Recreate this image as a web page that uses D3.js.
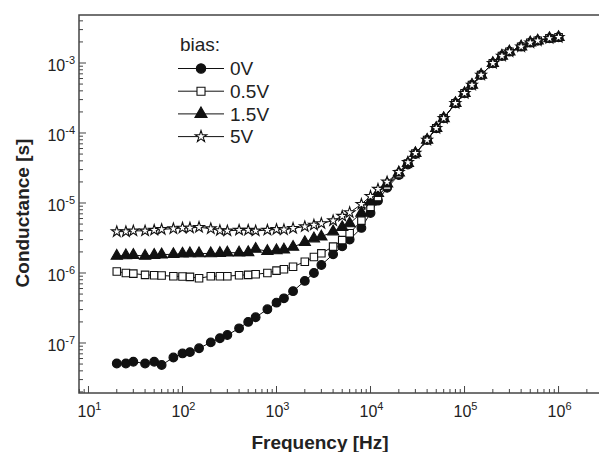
<!DOCTYPE html>
<html>
<head>
<meta charset="utf-8">
<title>conductance vs frequency</title>
<script src="https://d3js.org/d3.v7.min.js"></script>
<style>
  body { margin: 0; background: #fff; }
  text { font-family: "Liberation Sans", Arial, sans-serif; fill: #222; }
</style>
</head>
<body>
<div id="chart"></div>
<script>
// measured frequencies [Hz]
var freq = [20, 25, 30, 40, 50, 60, 80,
    100, 120, 150, 200, 250, 300, 400, 500, 600, 800,
    1e3, 1.2e3, 1.5e3, 2e3, 2.5e3, 3e3, 4e3, 5e3, 6e3, 8e3,
    1e4, 1.2e4, 1.5e4, 2e4, 2.5e4, 3e4, 4e4, 5e4, 6e4, 8e4,
    1e5, 1.2e5, 1.5e5, 2e5, 2.5e5, 3e5, 4e5, 5e5, 6e5, 8e5, 1e6];

// above 40 kHz all bias curves lie on top of each other
var gHigh = [7.94e-5, 1.17e-4, 1.62e-4, 2.66e-4,
    3.69e-4, 4.85e-4, 6.74e-4, 9.9e-4, 1.26e-3, 1.45e-3, 1.71e-3, 1.95e-3, 2.08e-3, 2.25e-3, 2.33e-3];

var g0V = [5.1e-8, 5.1e-8, 5.4e-8, 5.1e-8, 5.4e-8, 4.85e-8, 6.2e-8,
    7.1e-8, 7.4e-8, 8.4e-8, 1.02e-7, 1.17e-7, 1.3e-7, 1.62e-7, 2.0e-7, 2.33e-7, 3.03e-7,
    3.77e-7, 4.35e-7, 5.5e-7, 7.7e-7, 1.0e-6, 1.3e-6, 1.85e-6, 2.4e-6, 3.0e-6, 4.4e-6,
    7.2e-6, 1.08e-5, 1.65e-5, 2.5e-5, 3.55e-5, 5.0e-5].concat(gHigh);

var g05V = [1.05e-6, 1.0e-6, 9.8e-7, 9.4e-7, 9.3e-7, 9.2e-7, 9.0e-7,
    8.9e-7, 8.8e-7, 8.4e-7, 9.0e-7, 9.0e-7, 9.0e-7, 9.3e-7, 9.4e-7, 9.6e-7, 1.0e-6,
    1.08e-6, 1.13e-6, 1.23e-6, 1.45e-6, 1.69e-6, 1.91e-6, 2.38e-6, 2.95e-6, 3.7e-6, 5.6e-6,
    8.8e-6, 1.22e-5, 1.78e-5, 2.6e-5, 3.65e-5, 5.1e-5].concat(gHigh);

var g15V = [1.75e-6, 1.78e-6, 1.8e-6, 1.75e-6, 1.8e-6, 1.83e-6, 1.85e-6,
    1.88e-6, 1.9e-6, 1.9e-6, 1.9e-6, 1.92e-6, 1.95e-6, 1.95e-6, 1.97e-6, 2.2e-6, 2.05e-6,
    2.1e-6, 2.15e-6, 2.35e-6, 2.75e-6, 3.1e-6, 3.3e-6, 3.9e-6, 4.5e-6, 5.1e-6, 7.2e-6,
    1.04e-5, 1.38e-5, 1.88e-5, 2.7e-5, 3.7e-5, 5.13e-5].concat(gHigh);

var g5V = [3.9e-6, 3.9e-6, 4.0e-6, 4.0e-6, 4.1e-6, 4.2e-6, 4.3e-6,
    4.4e-6, 4.4e-6, 4.5e-6, 4.3e-6, 4.05e-6, 4.0e-6, 4.1e-6, 4.1e-6, 4.0e-6, 4.1e-6,
    4.2e-6, 4.15e-6, 4.35e-6, 4.6e-6, 4.85e-6, 5.1e-6, 5.6e-6, 6.5e-6, 7.3e-6, 9.6e-6,
    1.25e-5, 1.58e-5, 2.0e-5, 2.75e-5, 3.8e-5, 5.15e-5].concat(gHigh);

var biasLabels = ["0V", "0.5V", "1.5V", "5V"];
var seriesValues = [g0V, g05V, g15V, g5V];
var xTickExp = [1, 2, 3, 4, 5, 6];
var yTickExp = [-3, -4, -5, -6, -7];

var width = 599, height = 452;
var pLeft = 79, pTop = 15, pBottom = 393, pRight = 603;

var svg = d3.select("#chart").append("svg")
    .attr("width", width)
    .attr("height", height);

var x = d3.scaleLog().domain([7.93, 2.97e6]).range([pLeft, pRight]);
var y = d3.scaleLog().domain([1.93e-8, 4.85e-3]).range([pBottom, pTop]);

// frame (right side runs off the picture)
svg.append("rect")
    .attr("x", pLeft).attr("y", pTop)
    .attr("width", 540).attr("height", pBottom - pTop)
    .attr("fill", "none")
    .attr("stroke", "#444")
    .attr("stroke-width", 1.5);

function isDecade(v) {
    var l = Math.log10(v);
    return Math.abs(l - Math.round(l)) < 1e-6;
}

// inward ticks
svg.selectAll("line.xtick")
    .data(x.ticks())
    .enter().append("line")
    .attr("x1", d => x(d)).attr("x2", d => x(d))
    .attr("y1", pBottom).attr("y2", d => pBottom - (isDecade(d) ? 7 : 4))
    .attr("stroke", "#444").attr("stroke-width", 1);

svg.selectAll("line.ytick")
    .data(y.ticks())
    .enter().append("line")
    .attr("y1", d => y(d)).attr("y2", d => y(d))
    .attr("x1", pLeft).attr("x2", d => pLeft + (isDecade(d) ? 7 : 4))
    .attr("stroke", "#444").attr("stroke-width", 1);

// tick labels, 10 with superscript
var xl = svg.selectAll("text.xlab")
    .data(xTickExp)
    .enter().append("text")
    .attr("x", d => x(Math.pow(10, d)) + 1)
    .attr("y", 417)
    .attr("text-anchor", "middle")
    .attr("font-size", "16px")
    .text("10");
xl.append("tspan")
    .attr("font-size", "11px")
    .attr("dy", -7)
    .text(d => d);

var yl = svg.selectAll("text.ylab")
    .data(yTickExp)
    .enter().append("text")
    .attr("x", 75)
    .attr("y", d => y(Math.pow(10, d)) + 8)
    .attr("text-anchor", "end")
    .attr("font-size", "16px")
    .text("10");
yl.append("tspan")
    .attr("font-size", "11px")
    .attr("dy", -7)
    .text(d => d);

// axis titles
svg.append("text")
    .attr("x", 320).attr("y", 449)
    .attr("text-anchor", "middle")
    .attr("font-size", "19px")
    .attr("font-weight", "bold")
    .text("Frequency [Hz]");

svg.append("text")
    .attr("transform", "translate(29,213) rotate(-90)")
    .attr("text-anchor", "middle")
    .attr("font-size", "19px")
    .attr("font-weight", "bold")
    .text("Conductance [s]");

// marker styles per bias
var symbols = [d3.symbolCircle, d3.symbolSquare, d3.symbolTriangle, d3.symbolStar];
var symSize = [60, 56, 55, 36];
var symFill = ["#111", "#fff", "#111", "#fff"];

var line = d3.line()
    .x(d => x(d[0]))
    .y(d => y(d[1]));

seriesValues.forEach(function(vals, i) {
    var pts = freq.map((f, k) => [f, vals[k]]);
    svg.append("path")
        .datum(pts)
        .attr("d", line)
        .attr("fill", "none")
        .attr("stroke", "#111")
        .attr("stroke-width", 1);
    svg.selectAll("path.m" + i)
        .data(pts)
        .enter().append("path")
        .attr("class", "m" + i)
        .attr("transform", d => "translate(" + x(d[0]) + "," + y(d[1]) + ")")
        .attr("d", d3.symbol().type(symbols[i]).size(symSize[i]))
        .attr("fill", symFill[i])
        .attr("stroke", "#111")
        .attr("stroke-width", 1.1);
});

// legend
svg.append("text")
    .attr("x", 180).attr("y", 51)
    .attr("font-size", "19px")
    .text("bias:");

biasLabels.forEach(function(lab, i) {
    var cy = 68.5 + i * 22.7;
    svg.append("line")
        .attr("x1", 178).attr("x2", 224)
        .attr("y1", cy).attr("y2", cy)
        .attr("stroke", "#111").attr("stroke-width", 1);
    svg.append("path")
        .attr("transform", "translate(201," + cy + ")")
        .attr("d", d3.symbol().type(symbols[i]).size(symSize[i] * 1.15))
        .attr("fill", symFill[i])
        .attr("stroke", "#111")
        .attr("stroke-width", 1.1);
    svg.append("text")
        .attr("x", 230).attr("y", cy + 6.7)
        .attr("font-size", "19px")
        .text(lab);
});
</script>
</body>
</html>
